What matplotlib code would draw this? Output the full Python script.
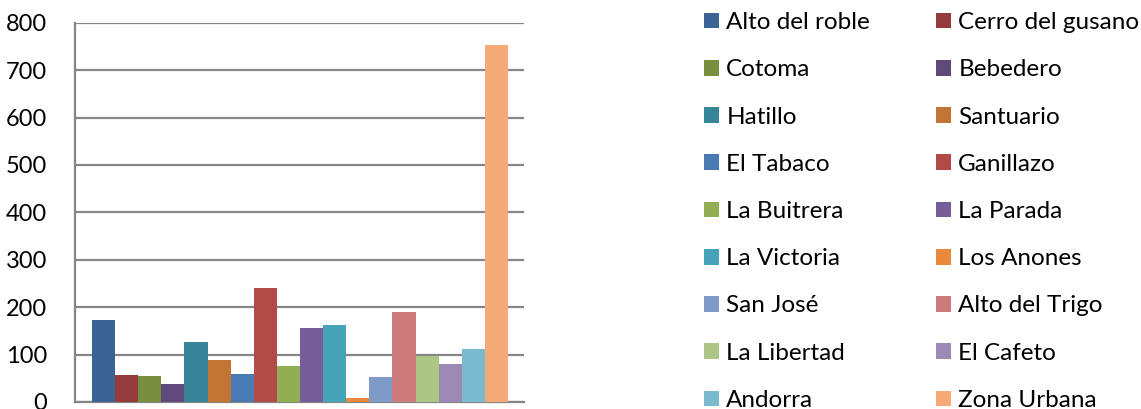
import matplotlib
matplotlib.use("Agg")
import matplotlib.pyplot as plt
from matplotlib.patches import Patch

plt.rcParams["font.family"] = ["Lato", "DejaVu Sans"]

# data
sectors = [
    "Alto del roble", "Cerro del gusano", "Cotoma", "Bebedero", "Hatillo",
    "Santuario", "El Tabaco", "Ganillazo", "La Buitrera", "La Parada",
    "La Victoria", "Los Anones", "San José", "Alto del Trigo", "La Libertad",
    "El Cafeto", "Andorra", "Zona Urbana",
]
values = [173, 57, 55, 38, 127, 89, 59, 240, 76, 156, 162, 8, 53, 190, 97, 80, 112, 753]
colors = [
    "#3b6495", "#943b3b", "#778f3f", "#604a7b", "#378599", "#c27435",
    "#4a7ab4", "#b24a48", "#91ae53", "#775d98", "#46a3ba", "#e8893d",
    "#7e9bc8", "#cb7b7a", "#adc686", "#9c8ab4", "#7bb9cf", "#f6aa78",
]
y_ticks = [0, 100, 200, 300, 400, 500, 600, 700, 800]

W, H = 1141, 409
fig = plt.figure(figsize=(W / 100, H / 100), dpi=100)
ax = fig.add_axes([75 / W, 1 - 402 / H, (524 - 75) / W, (402 - 22.7) / H])

for i, (name, val, col) in enumerate(zip(sectors, values, colors)):
    ax.bar(i, val, width=1.0, color=col, label=name, zorder=3)

ax.set_xlim(-1.236, 18.19)
ax.set_ylim(0, 800)
ax.set_yticks(y_ticks)
ax.set_xticks([])
ax.yaxis.grid(True, color="#868686", linewidth=1.6, zorder=0)
ax.tick_params(axis="y", length=0, pad=20, labelsize=17, colors="black")
for side in ("top", "right"):
    ax.spines[side].set_visible(False)
for side in ("left", "bottom"):
    ax.spines[side].set_color("#868686")
    ax.spines[side].set_linewidth(1.6)

# legend: two columns, read row by row
handles = [Patch(facecolor=c, edgecolor="none") for c in colors]
leg_kw = dict(frameon=False, fontsize=17.5, handlelength=0.62, handleheight=0.62,
              handletextpad=0.3, labelspacing=1.08, borderpad=0, borderaxespad=0,
              loc="upper left")
left = fig.legend(handles[0::2], sectors[0::2], bbox_to_anchor=(704 / W, 1 - 12 / H), **leg_kw)
right = fig.legend(handles[1::2], sectors[1::2], bbox_to_anchor=(936 / W, 1 - 12 / H), **leg_kw)

fig.savefig("out.png", dpi=100)
